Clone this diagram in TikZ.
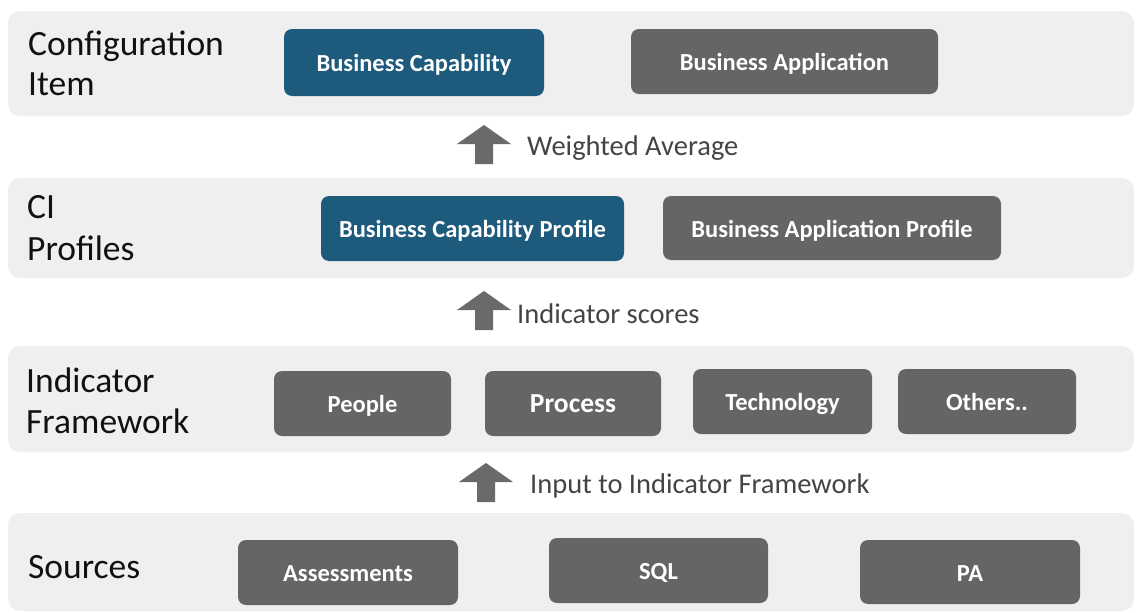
\documentclass[tikz,border=0pt]{standalone}
\usepackage{fontspec}
\setmainfont{Carlito}
\definecolor{bandgray}{HTML}{EFEFEF}
\definecolor{boxgray}{HTML}{656565}
\definecolor{boxblue}{HTML}{1D5A7B}
\definecolor{arrowgray}{HTML}{6A6A6A}
\definecolor{lbl}{HTML}{111111}
\definecolor{albl}{HTML}{444444}
\begin{document}
\begin{tikzpicture}[x=1pt,y=-1pt,
  band/.style={fill=bandgray,draw=none,rounded corners=12pt},
  gbox/.style={fill=boxgray,draw=none,rounded corners=8pt,text=white,font=\bfseries\fontsize{24.5}{26}\selectfont,inner sep=0pt,text height=18pt,text depth=0pt},
  bbox/.style={gbox,fill=boxblue},
  layerlbl/.style={anchor=base west,text=lbl,inner sep=0pt,font=\fontsize{35.5}{40}\selectfont},
  arrlbl/.style={anchor=base west,text=albl,inner sep=0pt,font=\fontsize{28.5}{30}\selectfont},
  blockarrow/.style={fill=arrowgray,draw=none}
]
\useasboundingbox (0,0) rectangle (1136,613);
% bands
\fill[band] (8,11) rectangle (1134,116);
\fill[band] (8,178) rectangle (1134,278);
\fill[band] (8,346) rectangle (1134,452);
\fill[band] (8,513) rectangle (1134,611);
% layer labels
\node[layerlbl] (l1a) at (28,55) {Configuration};
\node[layerlbl] (l1b) at (28,95) {Item};
\node[layerlbl] (l2a) at (27,218) {CI};
\node[layerlbl] (l2b) at (27,260) {Profiles};
\node[layerlbl] (l3a) at (26,392) {Indicator};
\node[layerlbl] (l3b) at (26,433) {Framework};
\node[layerlbl] (l4) at (28,578) {Sources};
% row 1
\node[bbox,minimum width=260,minimum height=67] (bc) at (414,62.5) {Business Capability};
\node[gbox,minimum width=307,minimum height=65] (ba) at (784.5,61.5) {Business Application};
% row 2
\node[bbox,minimum width=303,minimum height=65] (bcp) at (472.5,228.5) {Business Capability Profile};
\node[gbox,minimum width=338,minimum height=64] (bap) at (832,228) {Business Application Profile};
% row 3
\node[gbox,minimum width=177,minimum height=65] (people) at (362.5,403.5) {People};
\node[gbox,minimum width=176,minimum height=65,font=\bfseries\fontsize{27.5}{28}\selectfont] (process) at (573,403.5) {Process};
\node[gbox,minimum width=179,minimum height=65] (tech) at (782.5,401.5) {Technology};
\node[gbox,minimum width=178,minimum height=65] (others) at (987,401.5) {Others..};
% row 4
\node[gbox,minimum width=220,minimum height=65] (assess) at (348,572.5) {Assessments};
\node[gbox,minimum width=219,minimum height=65] (sql) at (658.5,570.5) {SQL};
\node[gbox,minimum width=220,minimum height=64] (pa) at (970,572) {PA};
% block arrows
\fill[blockarrow] (484,125) -- (511,144) -- (493,144) -- (493,164) -- (475,164) -- (475,144) -- (457,144) -- cycle;
\fill[blockarrow] (484,291) -- (511,310) -- (493,310) -- (493,330) -- (475,330) -- (475,310) -- (457,310) -- cycle;
\fill[blockarrow] (486,463) -- (513,482) -- (495,482) -- (495,502) -- (477,502) -- (477,482) -- (459,482) -- cycle;
% arrow labels
\node[arrlbl] (t1) at (527,155) {Weighted Average};
\node[arrlbl] (t2) at (517,323) {Indicator scores};
\node[arrlbl] (t3) at (530,493) {Input to Indicator Framework};
\end{tikzpicture}
\end{document}
